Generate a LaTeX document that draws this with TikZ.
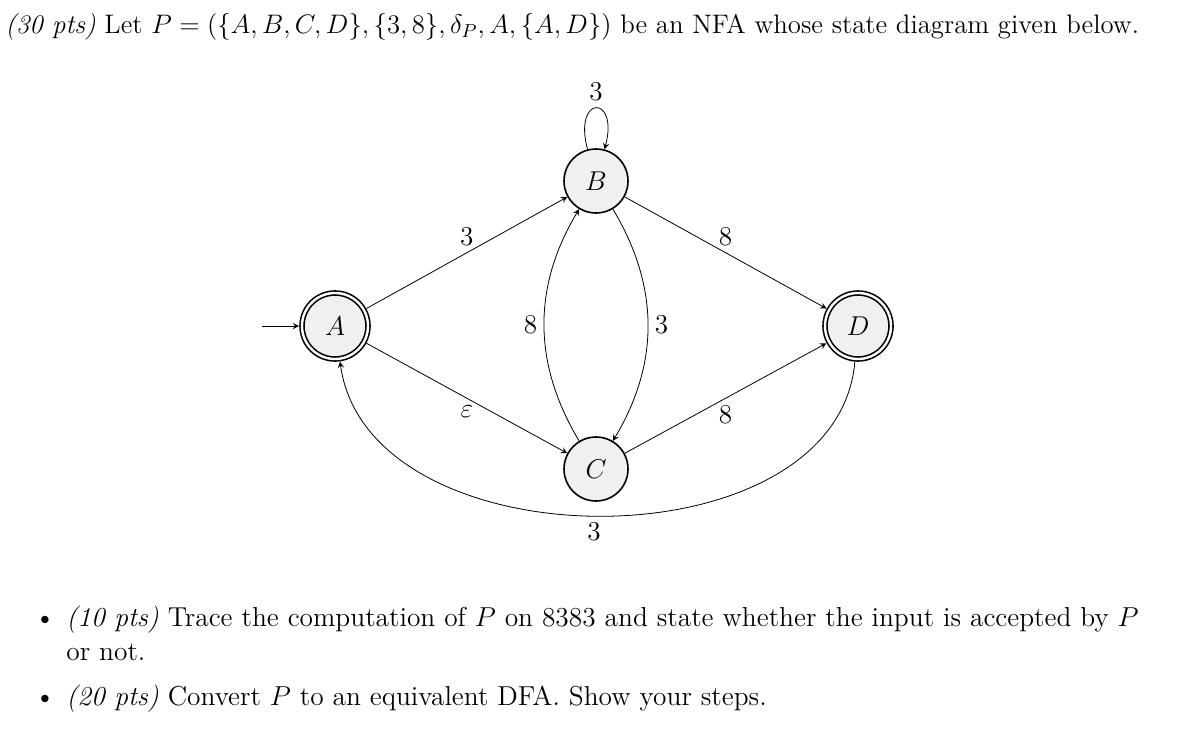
\RequirePackage{fix-cm}
\documentclass[tikz,border=0pt]{standalone}
\usetikzlibrary{arrows}
\begin{document}
\begin{tikzpicture}[x=0.5pt,y=-0.5pt,>=stealth,font=\fontsize{13.6}{16}\selectfont,
  state/.style={circle,draw,thick,fill=gray!12,minimum size=32pt,inner sep=0pt},
  accept/.style={state,double,double distance=1.2pt,minimum size=33pt,outer sep=1.5pt},
  txt/.style={anchor=base west,inner sep=0pt}]
\useasboundingbox (0,0) rectangle (1199,755);
% question text
\node[txt,font=\fontsize{13.38}{16}\selectfont] (q) at (5,33) {\textit{(30 pts)} Let $P=(\{A,B,C,D\},\{3,8\},\delta_P,A,\{A,D\})$ be an NFA whose state diagram given below.};
% states
\node[accept] (A) at (335,326) {$A$};
\node[state] (B) at (596,181) {$B$};
\node[state] (C) at (596,469) {$C$};
\node[accept] (D) at (858,326) {$D$};
\coordinate (start) at (262,326);
% transitions
\draw[->] (start) -- (A);
\draw[->] (A) -- node[above]{3} (B);
\draw[->] (B) -- node[above]{8} (D);
\draw[->] (A) -- node[below]{$\varepsilon$} (C);
\draw[->] (C) -- node[below]{8} (D);
\draw[->] (B) to[bend left=31] node[right]{3} (C);
\draw[->] (C) to[bend left=31] node[left]{8} (B);
\draw[->] (D) to[out=-95,in=-82,looseness=1.03] node[below,pos=0.51]{3} (A);
\draw[->] (B) to[loop above,min distance=10mm] node[above]{3} (B);
% parts
\node[anchor=base,inner sep=0pt] (b1) at (45,626) {\textbullet};
\node[txt,font=\fontsize{13.7}{16}\selectfont] (t1) at (66,626) {\textit{(10 pts)} Trace the computation of $P$ on 8383 and state whether the input is accepted by $P$};
\node[txt,font=\fontsize{13.7}{16}\selectfont] (t1b) at (66,660) {or not.};
\node[anchor=base,inner sep=0pt] (b2) at (45,705) {\textbullet};
\node[txt,font=\fontsize{13.7}{16}\selectfont] (t2) at (66,705) {\textit{(20 pts)} Convert $P$ to an equivalent DFA. Show your steps.};
\end{tikzpicture}
\end{document}
